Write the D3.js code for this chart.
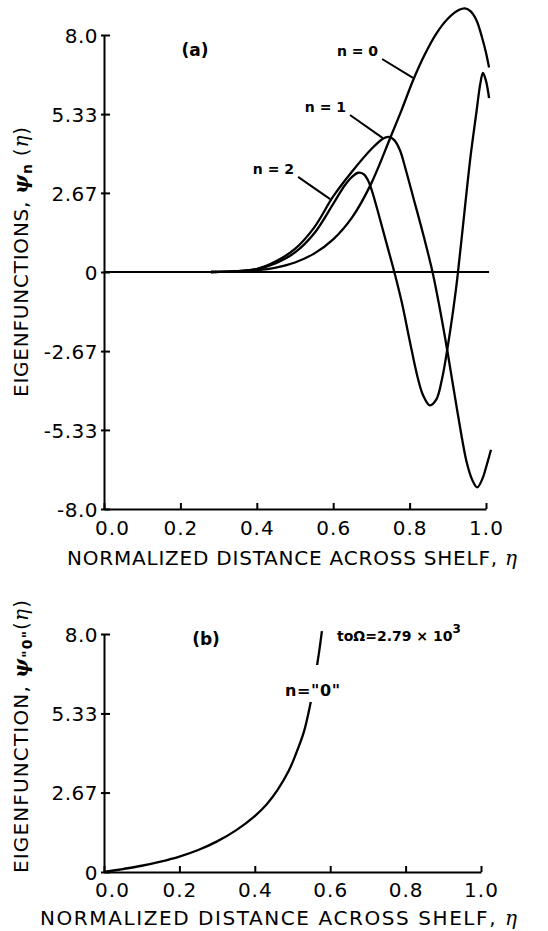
<!DOCTYPE html>
<html><head><meta charset="utf-8">
<script src="https://cdn.jsdelivr.net/npm/d3@7"></script>
<style>
html,body{margin:0;padding:0;background:#fff;}
svg{display:block;}
text{font-family:"DejaVu Sans",sans-serif;fill:#000;}
</style></head><body>
<svg id="c" width="548" height="931"></svg>
<script>
// ---------- data ----------
const etaN0 = [0.28,0.35,0.40,0.45,0.50,0.55,0.60,0.65,0.70,0.75,0.78,0.81,0.84,0.87,0.90,0.93,0.945,0.96,0.975,0.99,1.0,1.008];
const psiN0 = [0,0.02,0.06,0.15,0.32,0.62,1.1,1.85,3.0,4.55,5.5,6.5,7.35,8.05,8.55,8.85,8.9,8.8,8.5,7.9,7.4,6.9];

const etaN1 = [0.28,0.35,0.40,0.45,0.50,0.55,0.60,0.65,0.70,0.73,0.745,0.76,0.775,0.79,0.81,0.835,0.86,0.88,0.90,0.925,0.95,0.965,0.977,0.99,1.0,1.013];
const psiN1 = [0,0.03,0.1,0.36,0.78,1.5,2.55,3.4,4.15,4.5,4.56,4.45,4.1,3.45,2.5,1.3,0,-1.3,-2.75,-4.7,-6.45,-7.05,-7.27,-7.0,-6.6,-6.0];

const etaN2 = [0.28,0.35,0.40,0.45,0.50,0.55,0.60,0.63,0.65,0.665,0.68,0.69,0.70,0.72,0.74,0.762,0.78,0.80,0.82,0.835,0.853,0.87,0.885,0.90,0.915,0.925,0.945,0.96,0.975,0.985,0.992,1.0,1.008];
const psiN2 = [0,0.03,0.1,0.3,0.66,1.3,2.3,2.92,3.22,3.35,3.3,3.12,2.8,1.9,0.95,-0.1,-1.05,-2.3,-3.5,-4.15,-4.5,-4.3,-3.6,-2.5,-1.2,-0.2,2.2,3.95,5.4,6.35,6.72,6.45,5.87];

const etaB = [0,0.05,0.1,0.15,0.2,0.25,0.3,0.35,0.4,0.43,0.46,0.49,0.51,0.53,0.545,0.56,0.57,0.578];
const psiB = [0,0.1,0.21,0.35,0.52,0.74,1.03,1.4,1.88,2.25,2.75,3.4,4.0,4.7,5.5,6.55,7.35,8.1];

const xTickValues = [0,0.2,0.4,0.6,0.8,1.0];
const xTickLabels = ["0.0","0.2","0.4","0.6","0.8","1.0"];
const yTickValuesA = [8,5.33,2.67,0,-2.67,-5.33,-8];
const yTickLabelsA = ["8.0","5.33","2.67","0","-2.67","-5.33","-8.0"];
const yTickValuesB = [8,5.33,2.67,0];
const yTickLabelsB = ["8.0","5.33","2.67","0"];

// annotation leaders, in data coordinates [eta, psi]
const leadersA = [
  {label:"n = 0", from:[0.728,7.19], to:[0.809,6.55]},
  {label:"n = 1", from:[0.644,5.30], to:[0.730,4.52]},
  {label:"n = 2", from:[0.508,3.21], to:[0.592,2.46]}
];

// ---------- drawing ----------
const svg = d3.select("#c");
const FONT = '"DejaVu Sans", sans-serif';
const SERIF = '"DejaVu Serif", serif';

function styleAxis(g){
  g.attr("font-size",20).attr("font-family",FONT);
  g.select(".domain").attr("stroke","#000").attr("stroke-width",2);
  g.selectAll(".tick line").attr("stroke","#000").attr("stroke-width",2);
  g.selectAll(".tick text").attr("fill","#000");
}

function panel(opt){
  const x = d3.scaleLinear().domain([0,1]).range(opt.xr);
  const y = d3.scaleLinear().domain(opt.yd).range(opt.yr);
  const gx = svg.append("g").attr("transform",`translate(0,${y(opt.yd[0])})`)
    .call(d3.axisBottom(x).tickValues(xTickValues).tickFormat((d,i)=>xTickLabels[i])
      .tickSizeInner(-6).tickSizeOuter(0).tickPadding(opt.xpad));
  styleAxis(gx);
  gx.selectAll(".tick text").attr("letter-spacing",1).attr("dx",(d,i)=>i===0?8:0);
  const gy = svg.append("g").attr("transform",`translate(${x(0)},0)`)
    .call(d3.axisLeft(y).tickValues(opt.yt).tickFormat((d,i)=>opt.yl[i])
      .tickSizeInner(-6).tickSizeOuter(0).tickPadding(6));
  styleAxis(gy);
  gy.selectAll(".tick line").attr("x1",-3);
  gy.selectAll(".tick text").attr("dy","0.36em").attr("letter-spacing",0.5);
  return {x,y};
}

// Panel (a)
const A = panel({xr:[104,486], yd:[-8,8], yr:[509,35], yt:yTickValuesA, yl:yTickLabelsA, xpad:12});
const lineA = d3.line().x(d=>A.x(d[0])).y(d=>A.y(d[1])).curve(d3.curveCatmullRom.alpha(0.5));
svg.append("path").attr("d", d3.line()([[A.x(0),A.y(0)],[A.x(1.008),A.y(0)]]))
  .attr("stroke","#000").attr("stroke-width",2).attr("fill","none");
[[etaN0,psiN0],[etaN1,psiN1],[etaN2,psiN2]].forEach(([e,p])=>{
  svg.append("path").attr("d", lineA(d3.zip(e,p))).attr("fill","none")
    .attr("stroke","#000").attr("stroke-width",2.3).attr("stroke-linejoin","round");
});
leadersA.forEach(l=>{
  svg.append("line").attr("x1",A.x(l.from[0])).attr("y1",A.y(l.from[1]))
    .attr("x2",A.x(l.to[0])).attr("y2",A.y(l.to[1])).attr("stroke","#000").attr("stroke-width",2);
  svg.append("text").attr("x",A.x(l.from[0])-4).attr("y",A.y(l.from[1])-3)
    .attr("text-anchor","end").attr("font-size",14).attr("font-weight","bold").text(l.label);
});
svg.append("text").attr("x",195).attr("y",56).attr("text-anchor","middle")
  .attr("font-size",17).attr("font-weight","bold").text("(a)");

// x title (a)
const xtA = svg.append("text").attr("x",67).attr("y",565).attr("font-size",20)
  .attr("textLength",450).attr("lengthAdjust","spacing");
xtA.append("tspan").text("NORMALIZED DISTANCE ACROSS SHELF, ");
xtA.append("tspan").attr("font-style","italic").attr("font-family",SERIF).text("η");

// y title (a)
const ytA = svg.append("text").attr("transform","translate(28,397) rotate(-90)").attr("font-size",20)
  .attr("textLength",270).attr("lengthAdjust","spacing");
ytA.append("tspan").text("EIGENFUNCTIONS, ");
ytA.append("tspan").attr("font-style","italic").attr("font-weight","bold").attr("font-family",SERIF).text("ψ");
ytA.append("tspan").attr("font-size",14).attr("font-weight","bold").attr("dy",4).text("n");
ytA.append("tspan").attr("dy",-4).text(" (");
ytA.append("tspan").attr("font-style","italic").attr("font-family",SERIF).text("η");
ytA.append("tspan").text(")");

// Panel (b)
const B = panel({xr:[104,481], yd:[0,8], yr:[872,634], yt:yTickValuesB, yl:yTickLabelsB, xpad:11});
const lineB = d3.line().x(d=>B.x(d[0])).y(d=>B.y(d[1])).curve(d3.curveCatmullRom.alpha(0.5));
svg.append("path").attr("d", lineB(d3.zip(etaB,psiB))).attr("fill","none")
  .attr("stroke","#000").attr("stroke-width",2.3);

// label n="0" with a gap in the curve behind it
const bgRect = svg.append("rect").attr("fill","#fff");
const lb = svg.append("text").attr("x",285).attr("y",696).attr("font-size",16).attr("font-weight","bold")
  .attr("textLength",55).attr("lengthAdjust","spacing").text('n="0"');
const bb = lb.node().getBBox();
bgRect.attr("x",bb.x-2).attr("y",bb.y-16).attr("width",bb.width+4).attr("height",bb.height+18);

const tl = svg.append("text").attr("x",337).attr("y",641).attr("font-size",14).attr("font-weight","bold");
tl.append("tspan").text("toΩ=2.79 × 10");
tl.append("tspan").attr("font-size",12).attr("dy",-8).text("3");

svg.append("text").attr("x",206).attr("y",645).attr("text-anchor","middle")
  .attr("font-size",17).attr("font-weight","bold").text("(b)");

const xtB = svg.append("text").attr("x",40).attr("y",925).attr("font-size",20)
  .attr("textLength",477).attr("lengthAdjust","spacing");
xtB.append("tspan").text("NORMALIZED DISTANCE ACROSS SHELF, ");
xtB.append("tspan").attr("font-style","italic").attr("font-family",SERIF).text("η");

const ytB = svg.append("text").attr("transform","translate(28,873) rotate(-90)").attr("font-size",20)
  .attr("textLength",273).attr("lengthAdjust","spacing");
ytB.append("tspan").text("EIGENFUNCTION,  ");
ytB.append("tspan").attr("font-style","italic").attr("font-weight","bold").attr("font-family",SERIF).text("ψ");
ytB.append("tspan").attr("font-size",14).attr("font-weight","bold").attr("dy",4).text('"0"');
ytB.append("tspan").attr("dy",-4).text("(");
ytB.append("tspan").attr("font-style","italic").attr("font-family",SERIF).text("η");
ytB.append("tspan").text(")");
</script>
</body></html>
